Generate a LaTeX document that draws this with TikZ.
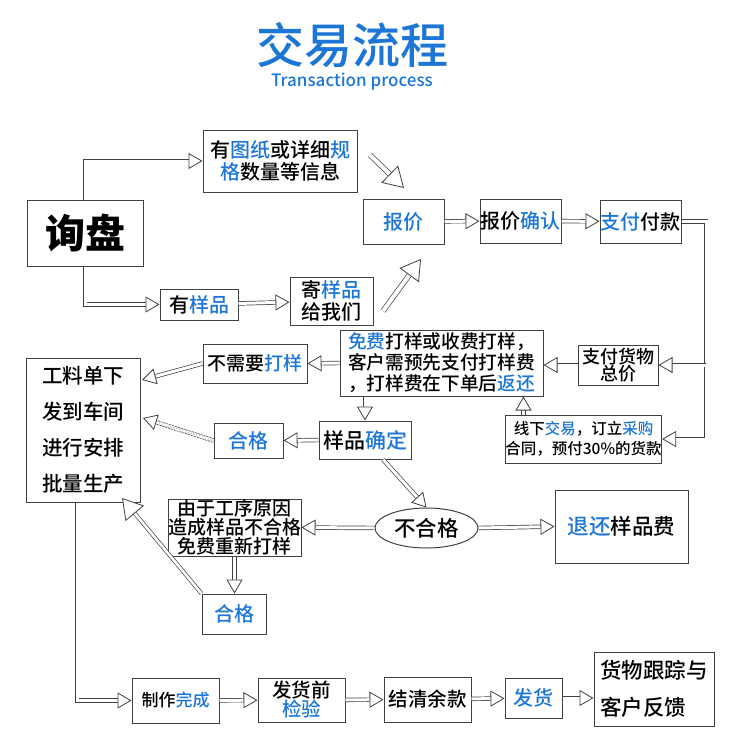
\documentclass[tikz,border=0pt]{standalone}
\usepackage{fontspec}
\setmainfont{Noto Sans CJK SC}[UprightFont=* Medium]
\usetikzlibrary{arrows.meta,shapes.geometric}
\definecolor{hlblue}{RGB}{28,118,214}
\newcommand{\hl}[1]{\textcolor{hlblue}{#1}}
\newcommand{\fs}[2]{\fontsize{#1}{#2}\selectfont}
\tikzset{
  box/.style = {draw=black!75, line width=1pt, inner sep=0pt, align=center,
    font=\fs{20}{22}},
  flow/.style = {draw=black!75, double=white, double distance=3pt, line width=0.7pt,
    -{Triangle[length=14pt,width=16pt,fill=white,line width=0.8pt]}},
  bigflow/.style = {flow, double distance=4pt,
    -{Triangle[length=20pt,width=24pt,fill=white,line width=0.8pt]}}
}

\begin{document}
\begin{tikzpicture}[x=1pt,y=-1pt]
  \useasboundingbox (0,0) rectangle (750,755);
  % title
  \node[text=hlblue,font=\fs{48}{48}] (title) at (352,45) {交易流程};
  \node[text=hlblue,font=\fs{17}{17}] (subtitle) at (352,82) {Transaction process};
  % enquiry
  \node[box,minimum width=116,minimum height=66,font=\fs{40}{40}\bfseries] (xunpan) at (85,233) {询盘};
  \node[box,minimum width=154,minimum height=62] (tuzhi) at (280,161)
    {有\hl{图纸}或详细\hl{规}\\\hl{格}数量等信息};
  \node[box,minimum width=78,minimum height=31] (youyang) at (199,304.5) {有\hl{样品}};
  \node[box,minimum width=83,minimum height=48] (jiyang) at (331.5,301) {寄\hl{样品}\\给我们};
  % quotation
  \node[box,minimum width=81,minimum height=45,text=hlblue] (baojia) at (403.5,221.5) {报价};
  \node[box,minimum width=81,minimum height=44] (queren) at (520.5,221) {报价\hl{确认}};
  \node[box,minimum width=81,minimum height=43] (zhifu) at (640.5,221.5) {\hl{支付}付款};
  % samples
  \node[box,minimum width=203,minimum height=66,font=\fs{18.7}{21}] (dayang) at (441.5,363)
    {\hl{免费}打样或收费打样，\\客户需预先支付打样费\\，打样费在下单后\hl{返还}};
  \node[box,minimum width=80,minimum height=40,font=\fs{18}{17}] (huojia) at (618,365) {支付货物\\总价};
  \node[box,minimum width=155,minimum height=48,font=\fs{15.5}{20}] (xianxia) at (583.5,439)
    {线下\hl{交易}，订立\hl{采购}\\合同，预付30\%的货款};
  \node[box,minimum width=104,minimum height=39,font=\fs{19}{21}] (buxu) at (255,363.5) {不需要\hl{打样}};
  \node[box,minimum width=114,minimum height=144,align=left,font=\fs{20.5}{36}] (gongliao) at (83,430)
    {工料单下\\发到车间\\进行安排\\批量生产};
  \node[box,minimum width=69,minimum height=35,text=hlblue] (hege1) at (248.5,440.5) {合格};
  \node[box,minimum width=92,minimum height=38,font=\fs{21}{22}] (queding) at (365,440) {样品\hl{确定}};
  \node[box,ellipse,minimum width=103,minimum height=40,font=\fs{21.5}{22}] (buhege) at (426.5,528) {不合格};
  \node[box,minimum width=121,minimum height=57,font=\fs{19}{19}] (yuanyin) at (234.5,527.5)
    {由于工序原因\\造成样品不合格\\免费重新打样};
  \node[box,minimum width=133,minimum height=73,font=\fs{21.5}{22}] (tuihuan) at (621.5,526.5) {\hl{退还}样品费};
  \node[box,minimum width=64,minimum height=40,text=hlblue] (hege2) at (234,614) {合格};
  % delivery
  \node[box,minimum width=87,minimum height=45,font=\fs{17}{20}] (zhizuo) at (175.5,700.5) {制作\hl{完成}};
  \node[box,minimum width=87,minimum height=44,font=\fs{19.5}{19}] (jianyan) at (301.5,700) {发货前\\\hl{检验}};
  \node[box,minimum width=87,minimum height=45,font=\fs{19.5}{20}] (jieqing) at (427.5,699.5) {结清余款};
  \node[box,minimum width=57,minimum height=40,text=hlblue] (fahuo) at (533.5,698) {发货};
  \node[box,minimum width=120,minimum height=74,align=left,font=\fs{21.5}{37}] (genzong) at (654,689)
    {货物跟踪与\\客户反馈};
  % free ends
  \coordinate (d1) at (370,155);
  \coordinate (d2) at (404,188);
  \coordinate (e1) at (383,311);
  \coordinate (e2) at (421,259);
  \coordinate (g1) at (142,380);
  \coordinate (g2) at (143,418);
  \coordinate (g3) at (122,498);
  \coordinate (trunk) at (706,221.5);
  % arrows
  \draw[flow] (xunpan.north) |- (tuzhi.west);
  \draw[flow] (xunpan.south) |- (youyang.west);
  \draw[flow] (youyang) -- (jiyang);
  \draw[bigflow] (d1) -- (d2);
  \draw[bigflow] (e1) -- (e2);
  \draw[flow] (baojia) -- (queren);
  \draw[flow] (queren) -- (zhifu);
  \draw[flow] (zhifu.east) -- (trunk) |- (xianxia.east);
  \draw[flow] (trunk |- huojia.east) -- (huojia.east);
  \draw[flow] (huojia.west) -- (huojia.west -| dayang.east);
  \draw[flow] ([xshift=-60pt]xianxia.north) -- ([xshift=-60pt]xianxia.north |- dayang.south);
  \draw[flow] (dayang.west) -- (buxu.east);
  \draw[flow] (queding.north |- dayang.south) -- (queding.north);
  \draw[flow] (buxu.west) -- (g1);
  \draw[flow] (queding.west) -- (hege1.east);
  \draw[flow,dash pattern=on 2pt off 1pt] (hege1.west) -- (g2);
  \draw[flow] ([xshift=18pt]queding.south) -- (buhege.north);
  \draw[flow] (buhege.west) -- (yuanyin.east);
  \draw[flow] (buhege.east) -- (tuihuan.west);
  \draw[flow] (yuanyin.south) -- (yuanyin.south |- hege2.north);
  \draw[bigflow,double distance=2.6pt] (hege2.north west) -- (g3);
  \draw[flow] ([xshift=-6pt]gongliao.south) |- (zhizuo.west);
  \draw[flow] (zhizuo) -- (jianyan);
  \draw[flow] (jianyan) -- (jieqing);
  \draw[flow] (jieqing) -- (fahuo);
  \draw[flow] (fahuo.east) -- (fahuo.east -| genzong.west);
\end{tikzpicture}
\end{document}
